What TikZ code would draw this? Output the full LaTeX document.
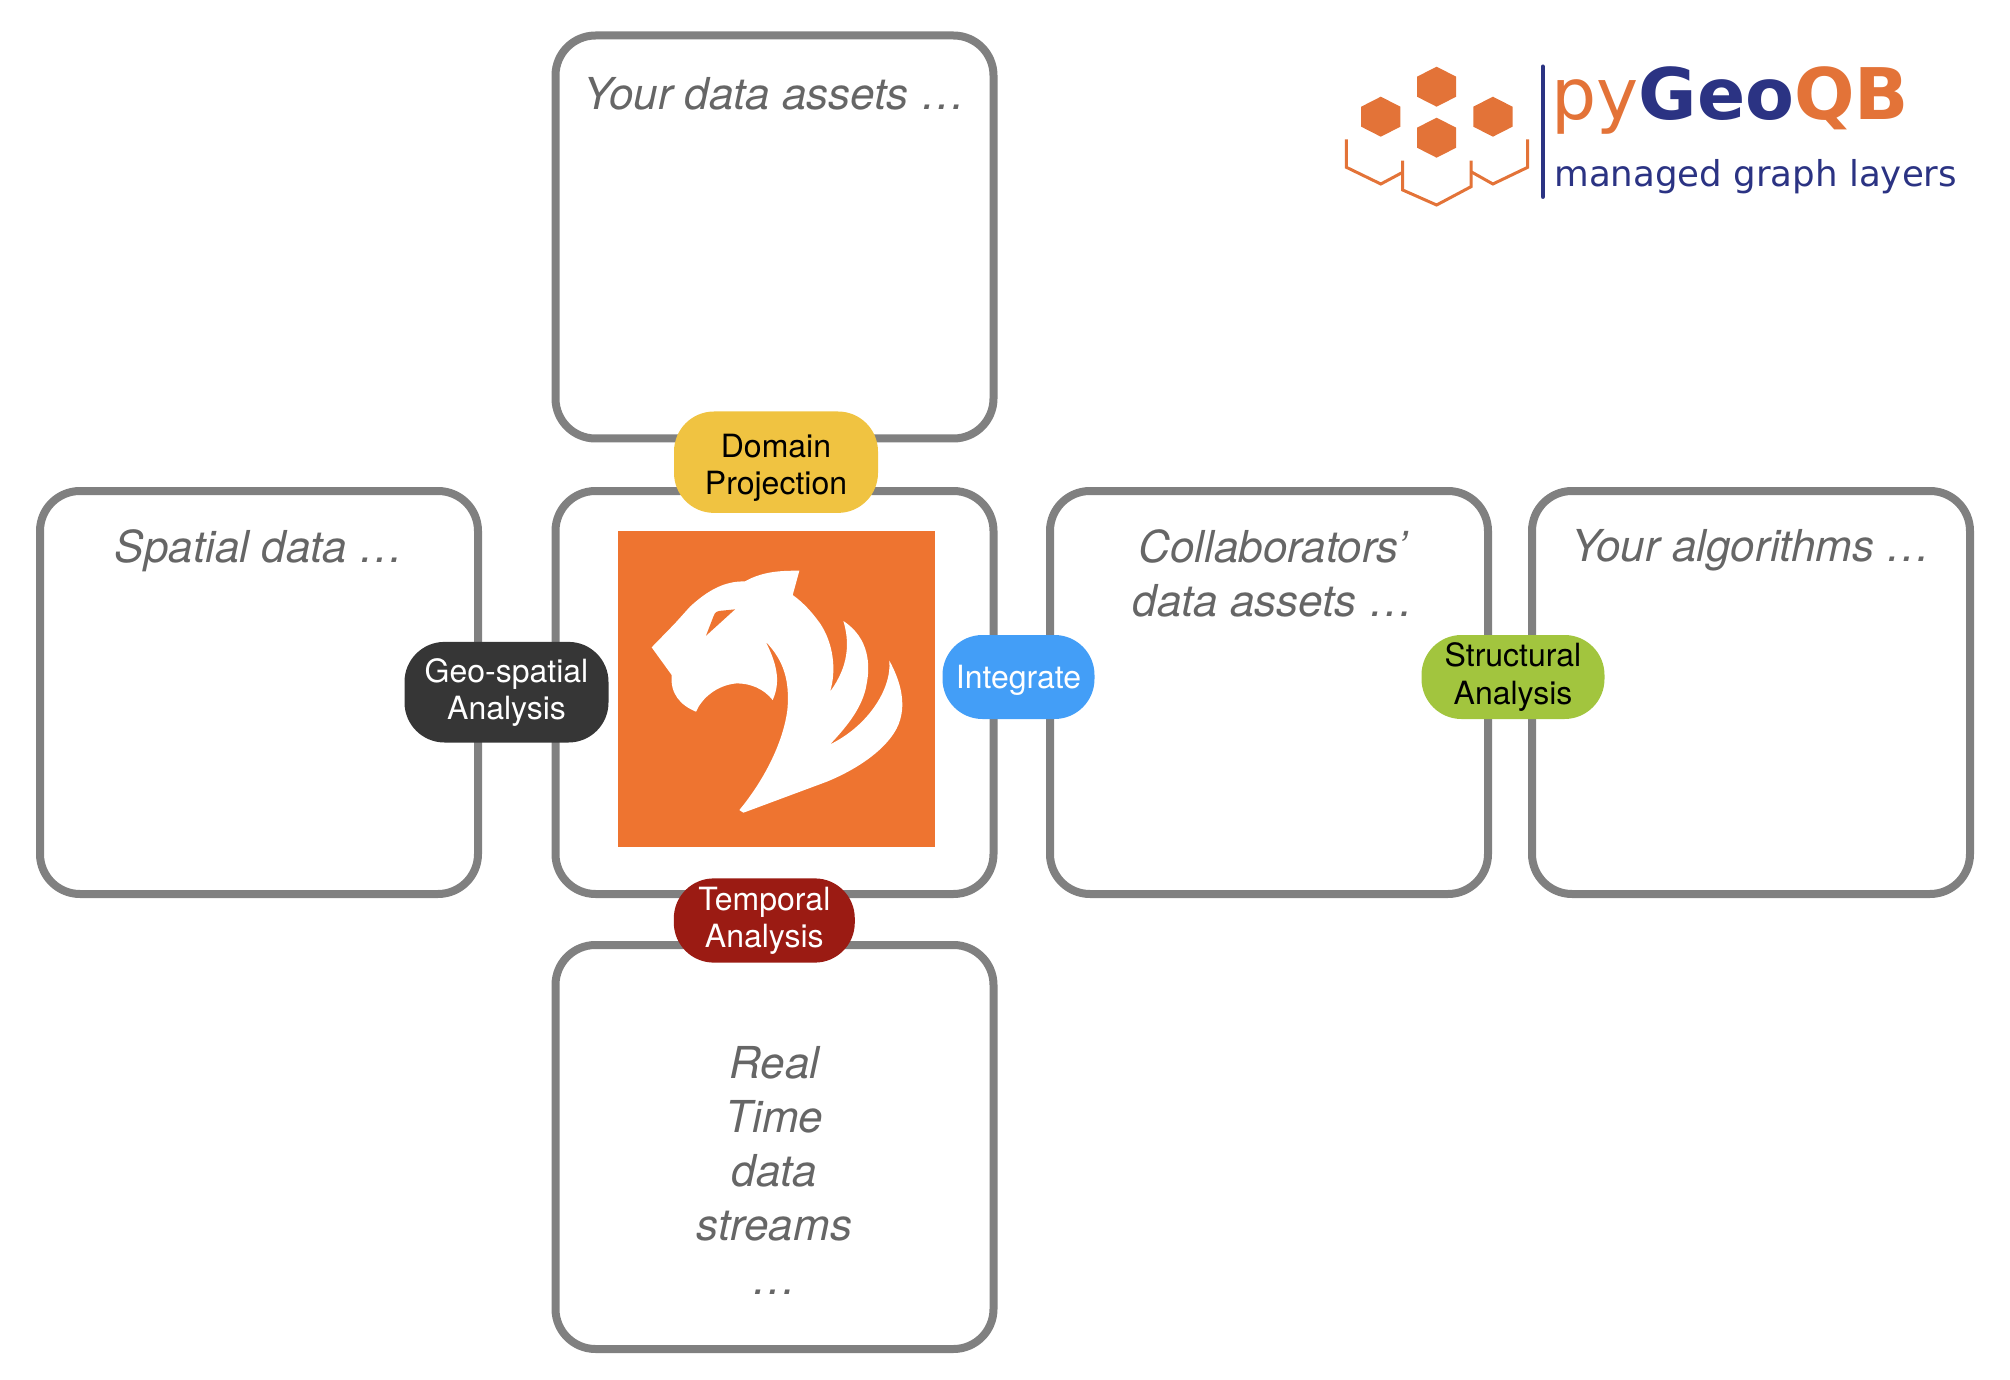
\documentclass[tikz,border=0pt]{standalone}
\usepackage{fontspec}
\setmainfont{TeX Gyre Heros}
\newfontfamily\logofont{DejaVu Sans}
\usepackage{tikz}
\usetikzlibrary{positioning}

\definecolor{framegray}{HTML}{808080}
\definecolor{captiongray}{HTML}{666666}
\definecolor{tigerorange}{HTML}{EE7430}
\definecolor{logoorange}{HTML}{E37338}
\definecolor{logoblue}{HTML}{2B3383}
\definecolor{pillyellow}{HTML}{F0C341}
\definecolor{pilldark}{HTML}{363636}
\definecolor{pillred}{HTML}{9B1B13}
\definecolor{pillblue}{HTML}{439EF7}
\definecolor{pillgreen}{HTML}{A2C53E}

\tikzset{
  framebox/.style={draw=framegray,line width=4pt,rounded corners=20pt,inner sep=0pt,
    minimum width=219pt,minimum height=201.5pt},
  caption/.style={text=captiongray,align=center,inner sep=0pt,
    font=\fontsize{22}{27}\selectfont\itshape},
  pill/.style={rounded corners=20pt,inner sep=0pt,align=center,
    font=\fontsize{16}{18.6}\selectfont,
    execute at begin node={\rule{0pt}{15pt}}},
}

\begin{document}
\begin{tikzpicture}[x=0.5pt,y=-0.5pt]
  \useasboundingbox (0,0) rectangle (2010,1380);

  % frames
  \node[framebox] (assets) at (774.5,237) {};
  \node[framebox] (spatial) at (259,692.5) {};
  \node[framebox] (core) at (774.5,692.5) {};
  \node[framebox] (collab) at (1269,692.5) {};
  \node[framebox] (algos) at (1751,692.5) {};
  \node[framebox,minimum height=202pt] (streams) at (774.5,1147) {};

  % captions
  \node[caption,below=22.7pt of assets.north] (assetstext) {Your data assets …};
  \node[caption,below=21pt of spatial.north] (spatialtext) {Spatial data …};
  \node[caption,below=21pt of collab.north,xshift=2pt] (collabtext) {Collaborators’\\data assets …};
  \node[caption,below=21pt of algos.north] (algostext) {Your algorithms …};
  \node[caption] (streamstext) at (774.5,1170) {Real\\Time\\data\\streams\\…};

  % tiger
  \fill[tigerorange] (618.3,531) rectangle (935.3,846.7);
  \begin{scope}[shift={(600,510)},x=0.1667pt,y=-0.1667pt]
    \fill[white] (155,412) -- (225,340) -- (270,290)
      .. controls (340,225) and (390,214) .. (435,214)
      .. controls (490,183) and (545,182) .. (598,182)
      -- (578,255)
      .. controls (620,285) and (645,320) .. (660,340)
      .. controls (700,400) and (710,480) .. (690,545)
      .. controls (745,470) and (750,400) .. (730,333)
      .. controls (810,385) and (810,470) .. (800,520)
      .. controls (790,590) and (740,650) .. (690,703)
      .. controls (800,650) and (875,540) .. (868,452)
      .. controls (905,520) and (915,580) .. (900,630)
      .. controls (880,700) and (790,770) .. (680,815)
      -- (430,908) -- (418,900)
      .. controls (500,800) and (550,690) .. (562,600)
      .. controls (570,510) and (550,450) .. (497,395)
      .. controls (535,470) and (540,520) .. (518,570)
      .. controls (490,535) and (450,520) .. (410,520)
      .. controls (350,525) and (305,565) .. (288,605)
      .. controls (240,585) and (210,550) .. (215,495)
      -- cycle;
    \fill[tigerorange] (318,377) -- (340,320)
      .. controls (345,305) and (352,303) .. (365,302)
      -- (405,298) -- cycle;
  \end{scope}

  % logo
  \foreach \cx/\cy in {1436.6/86.7,1380.8/116.7,1492.9/116.7,1436.6/137.7}
    \fill[logoorange] ({\cx},{\cy-20}) -- ({\cx+19.6},{\cy-10}) -- ({\cx+19.6},{\cy+10})
      -- ({\cx},{\cy+20}) -- ({\cx-19.6},{\cy+10}) -- ({\cx-19.6},{\cy-10}) -- cycle;
  \draw[logoorange,line width=1.5pt] (1346.4,139.3) -- (1346.4,167.3) -- (1380.8,184) -- (1402.7,172.3);
  \draw[logoorange,line width=1.5pt] (1402.7,160.7) -- (1402.7,190) -- (1436.6,205) -- (1471,186.7) -- (1471,160.7);
  \draw[logoorange,line width=1.5pt] (1471,171.7) -- (1492.9,184) -- (1527.7,167.3) -- (1527.7,139.3);
  \draw[logoblue,line width=2.25pt,line cap=round] (1542.9,66.7) -- (1542.9,196.7);
  \node[anchor=base west,inner sep=0pt,font=\logofont\fontsize{35.6}{36}\selectfont] (logoname) at (1551,119.3)
    {\textcolor{logoorange}{py}\textcolor{logoblue}{\bfseries Geo}\textcolor{logoorange}{\bfseries QB}};
  \node[anchor=base west,inner sep=0pt,text=logoblue,font=\logofont\fontsize{17.8}{18}\selectfont] (logosub) at (1554,186.7)
    {managed graph layers};

  % pills
  \node[pill,fill=pillyellow,minimum width=102pt,minimum height=50.7pt] (domain) at (776,462.2) {\rule{0pt}{17pt}Domain\\Projection};
  \node[pill,fill=pilldark,text=white,minimum width=102pt,minimum height=50.3pt] (geo) at (506.5,692.2) {Geo-spatial\\Analysis};
  \node[pill,fill=pillred,text=white,minimum width=90.5pt,minimum height=42.1pt] (temporal) at (764.3,920.5) {Temporal\\Analysis};
  \node[pill,fill=pillblue,text=white,minimum width=76pt,minimum height=42pt] (integrate) at (1018.5,677) {Integrate};
  \node[pill,fill=pillgreen,minimum width=91.5pt,minimum height=42pt] (structural) at (1513,677) {Structural\\Analysis};
\end{tikzpicture}
\end{document}
